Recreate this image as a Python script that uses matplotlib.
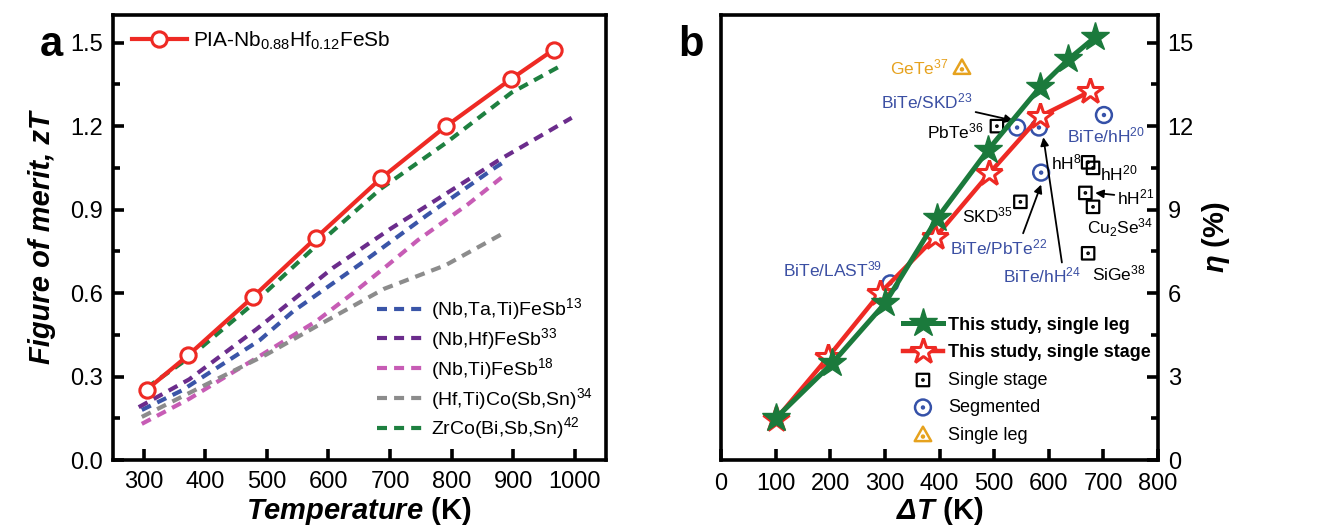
import matplotlib
matplotlib.use("Agg")
import matplotlib.pyplot as plt
from matplotlib.path import Path
from matplotlib.ticker import MultipleLocator

plt.rcParams['font.family'] = ['Liberation Sans', 'DejaVu Sans']
plt.rcParams['mathtext.fontset'] = 'custom'
plt.rcParams['mathtext.rm'] = 'Liberation Sans:italic:bold'
plt.rcParams['mathtext.it'] = 'Liberation Sans:italic:bold'
plt.rcParams['mathtext.bf'] = 'Liberation Sans:bold'

# ---- panel a data: zT vs temperature ----
pia_T = [305, 372, 477, 580, 685, 791, 897, 966]
pia_zT = [0.253, 0.376, 0.585, 0.799, 1.012, 1.20, 1.37, 1.475]

nbtati_T = [297, 362, 488, 543, 652, 760, 870, 884]
nbtati_zT = [0.18, 0.25, 0.43, 0.535, 0.705, 0.88, 1.05, 1.07]

nbhf_T = [292, 374, 483, 607, 700, 800, 876, 995]
nbhf_zT = [0.19, 0.29, 0.47, 0.69, 0.83, 0.97, 1.077, 1.23]

nbti_T = [297, 374, 493, 581, 640, 696, 745, 827, 881]
nbti_zT = [0.13, 0.22, 0.38, 0.50, 0.60, 0.70, 0.79, 0.92, 1.015]

hfti_T = [297, 400, 500, 580, 690, 790, 884]
hfti_zT = [0.155, 0.27, 0.38, 0.48, 0.615, 0.70, 0.815]

zrco_T = [305, 372, 477, 580, 685, 791, 897, 974]
zrco_zT = [0.26, 0.365, 0.56, 0.77, 0.975, 1.14, 1.32, 1.413]

# ---- panel b data: efficiency vs delta T ----
leg_dT = [101, 203, 300, 396, 489, 584, 636, 685]
leg_eta = [1.52, 3.47, 5.63, 8.7, 11.15, 13.4, 14.4, 15.2]

stage_dT = [101, 196, 291, 392, 491, 584, 676]
stage_eta = [1.48, 3.7, 6.0, 8.0, 10.3, 12.35, 13.25]

single_stage_dT = [505, 548, 672, 681, 667, 681, 672]
single_stage_eta = [12.0, 9.28, 10.7, 10.5, 9.6, 9.1, 7.43]

segmented_dT = [310, 542, 582, 586, 701]
segmented_eta = [6.35, 11.95, 11.95, 10.33, 12.4]

single_leg_dT = [441]
single_leg_eta = [14.1]


def dotted_marker(outline):
    dot = Path.circle((0, 0), 0.12)
    return Path.make_compound_path(outline, dot)


sq_marker = dotted_marker(Path([(-1, -1), (1, -1), (1, 1), (-1, 1), (-1, -1)],
                               [Path.MOVETO, Path.LINETO, Path.LINETO, Path.LINETO, Path.CLOSEPOLY]))
circ_marker = dotted_marker(Path.circle((0, 0), 1))
tri_marker = Path.make_compound_path(
    Path([(0, 1), (-1, -0.75), (1, -0.75), (0, 1)],
         [Path.MOVETO, Path.LINETO, Path.LINETO, Path.CLOSEPOLY]),
    Path.circle((0, -0.2), 0.12))

RED = '#EE2A24'
GREEN = '#1B7A3C'
BLUE_TXT = '#3B4FA3'
ORANGE = '#E6A21E'

fig = plt.figure(figsize=(13.28, 5.3), dpi=100)
ax1 = fig.add_axes([0.085, 0.132, 0.371, 0.840])
ax2 = fig.add_axes([0.543, 0.132, 0.329, 0.840])

for ax in (ax1, ax2):
    for s in ax.spines.values():
        s.set_linewidth(2.6)

# ---------------- panel a ----------------
dash = (0, (2.4, 1.7))
l_blue, = ax1.plot(nbtati_T, nbtati_zT, color='#3A55A8', lw=3, ls=dash)
l_purp, = ax1.plot(nbhf_T, nbhf_zT, color='#6B2C8C', lw=3, ls=dash)
l_pink, = ax1.plot(nbti_T, nbti_zT, color='#C75CB5', lw=3, ls=dash)
l_gray, = ax1.plot(hfti_T, hfti_zT, color='#8C8C8C', lw=3, ls=dash)
l_grn, = ax1.plot(zrco_T, zrco_zT, color='#1E8040', lw=3, ls=dash)
l_pia, = ax1.plot(pia_T, pia_zT, color=RED, lw=3, marker='o', ms=11,
                  mfc='white', mec=RED, mew=2.2, zorder=5)

ax1.set_xlim(250, 1050)
ax1.set_ylim(0, 1.6)
ax1.set_xticks(range(300, 1001, 100))
ax1.yaxis.set_major_locator(MultipleLocator(0.3))
ax1.yaxis.set_minor_locator(MultipleLocator(0.15))
ax1.tick_params(which='both', direction='in', width=2.6, labelsize=17,
                top=False, right=False)
ax1.tick_params(which='major', length=8, pad=7)
ax1.tick_params(axis='x', pad=8)
ax1.tick_params(which='minor', length=5)
ax1.yaxis.set_major_formatter(plt.FuncFormatter(lambda v, p: f'{v:.1f}'))
ax1.set_xlabel(r'$Temperature$ (K)', fontsize=21, fontweight='bold', labelpad=1)
ax1.set_ylabel('Figure of merit, zT', fontsize=21, fontweight='bold',
               fontstyle='italic', labelpad=10)

leg1 = ax1.legend([l_pia], [r'PIA-Nb$_{\mathregular{0.88}}$Hf$_{\mathregular{0.12}}$FeSb'],
                  loc='upper left', bbox_to_anchor=(0.01, 1.0), frameon=False,
                  fontsize=15, handlelength=2.6, handletextpad=0.3, borderaxespad=0.3)
ax1.add_artist(leg1)
ax1.legend([l_blue, l_purp, l_pink, l_gray, l_grn],
           [r'(Nb,Ta,Ti)FeSb$^{\mathregular{13}}$', r'(Nb,Hf)FeSb$^{\mathregular{33}}$',
            r'(Nb,Ti)FeSb$^{\mathregular{18}}$', r'(Hf,Ti)Co(Sb,Sn)$^{\mathregular{34}}$',
            r'ZrCo(Bi,Sb,Sn)$^{\mathregular{42}}$'],
           loc='upper left', bbox_to_anchor=(0.52, 0.385), frameon=False,
           fontsize=14, handlelength=2.3, handletextpad=0.5, labelspacing=0.2,
           borderaxespad=0)

fig.text(0.030, 0.915, 'a', fontsize=30, fontweight='bold', ha='left', va='center')

# ---------------- panel b ----------------
h_ss = ax2.scatter(single_stage_dT, single_stage_eta, marker=sq_marker, s=80,
                   facecolors='none', edgecolors='black', linewidths=1.6, zorder=3)
h_seg = ax2.scatter(segmented_dT, segmented_eta, marker=circ_marker, s=130,
                    facecolors='none', edgecolors='#3551A8', linewidths=1.8, zorder=3)
h_sl = ax2.scatter(single_leg_dT, single_leg_eta, marker=tri_marker, s=140,
                   facecolors='none', edgecolors=ORANGE, linewidths=1.8, zorder=3)
h_stage, = ax2.plot(stage_dT, stage_eta, color=RED, lw=3.2, marker='*', ms=19,
                    mfc='white', mec=RED, mew=2.2, zorder=4)
h_leg, = ax2.plot(leg_dT, leg_eta, color=GREEN, lw=3.6, marker='*', ms=21,
                  mfc=GREEN, mec=GREEN, zorder=5)

ax2.set_xlim(0, 800)
ax2.set_ylim(0, 16)
ax2.xaxis.set_major_locator(MultipleLocator(100))
ax2.yaxis.set_major_locator(MultipleLocator(3))
ax2.yaxis.set_minor_locator(MultipleLocator(1.5))
ax2.yaxis.tick_right()
ax2.yaxis.set_label_position('right')
ax2.tick_params(which='both', direction='in', width=2.6, labelsize=17,
                top=False, left=False, right=True)
ax2.tick_params(which='major', length=8, pad=7)
ax2.tick_params(axis='x', pad=9)
ax2.tick_params(which='minor', length=5)
ax2.set_xlabel(r'$\Delta T$ (K)', fontsize=21, fontweight='bold', labelpad=0)
ax2.set_ylabel(r'$\eta$ (%)', fontsize=21, fontweight='bold', rotation=90, labelpad=4)

ax2.legend([h_leg, h_stage, h_ss, h_seg, h_sl],
           ['This study, single leg', 'This study, single stage',
            'Single stage', 'Segmented', 'Single leg'],
           loc='upper left', bbox_to_anchor=(0.40, 0.338), frameon=False,
           fontsize=13, handlelength=2.2, handletextpad=0.3, labelspacing=0.58,
           borderaxespad=0, scatterpoints=1)
lg = ax2.get_legend()
for t in lg.get_texts()[:2]:
    t.set_fontweight('bold')

fs = 12.5
ax2.text(416, 14.1, r'GeTe$^{\mathregular{37}}$', color=ORANGE, fontsize=fs, ha='right', va='center')
ax2.text(480, 11.8, r'PbTe$^{\mathregular{36}}$', color='black', fontsize=fs, ha='right', va='center')
ax2.text(634, 11.65, r'BiTe/hH$^{\mathregular{20}}$', color=BLUE_TXT, fontsize=fs, ha='left', va='center')
ax2.text(661, 10.7, r'hH$^{\mathregular{8}}$', color='black', fontsize=fs, ha='right', va='center')
ax2.text(694, 10.3, r'hH$^{\mathregular{20}}$', color='black', fontsize=fs, ha='left', va='center')
ax2.text(670, 8.35, r'Cu$_{\mathregular{2}}$Se$^{\mathregular{34}}$', color='black', fontsize=fs, ha='left', va='center')
ax2.text(679, 6.7, r'SiGe$^{\mathregular{38}}$', color='black', fontsize=fs, ha='left', va='center')
ax2.text(535, 8.8, r'SKD$^{\mathregular{35}}$', color='black', fontsize=fs, ha='right', va='center')
ax2.text(114, 6.85, r'BiTe/LAST$^{\mathregular{39}}$', color=BLUE_TXT, fontsize=fs, ha='left', va='center')

arrow = dict(arrowstyle='-|>', color='black', lw=1.3, mutation_scale=12, shrinkA=0, shrinkB=0)
ax2.annotate(r'BiTe/SKD$^{\mathregular{23}}$', xy=(535, 12.2), xytext=(461, 12.9),
             color=BLUE_TXT, fontsize=fs, ha='right', va='center', arrowprops=arrow)
ax2.annotate(r'hH$^{\mathregular{21}}$', xy=(685, 9.6), xytext=(725, 9.45),
             color='black', fontsize=fs, ha='left', va='center', arrowprops=arrow)
ax2.annotate('', xy=(586, 9.9), xytext=(553, 8.15), arrowprops=arrow)
ax2.text(419, 7.65, r'BiTe/PbTe$^{\mathregular{22}}$', color=BLUE_TXT, fontsize=fs, ha='left', va='center')
ax2.annotate('', xy=(590, 11.6), xytext=(624, 7.1), arrowprops=arrow)
ax2.text(516, 6.64, r'BiTe/hH$^{\mathregular{24}}$', color=BLUE_TXT, fontsize=fs, ha='left', va='center')

fig.text(0.511, 0.915, 'b', fontsize=30, fontweight='bold', ha='left', va='center')

fig.savefig('out.png', dpi=100)
